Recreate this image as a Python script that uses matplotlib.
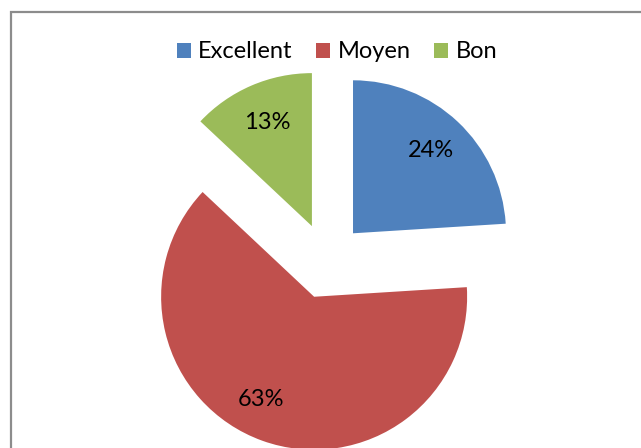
import matplotlib
matplotlib.use("Agg")
import matplotlib.pyplot as plt
from matplotlib.patches import Rectangle

categories = ["Excellent", "Moyen", "Bon"]
values = [24, 63, 13]
colors = ["#4F81BD", "#C0504D", "#9BBB59"]

plt.rcParams["font.family"] = ["Lato", "DejaVu Sans"]

fig = plt.figure(figsize=(6.41, 4.48), dpi=100)
ax = fig.add_axes([0, 0, 1, 1])
ax.set_xlim(0, 641)
ax.set_ylim(0, 448)
ax.set_aspect("equal")
ax.axis("off")

# chart frame (cut off on the right and bottom like the original screenshot)
ax.add_patch(Rectangle((10.5, -20), 700, 448 - 11.5 + 20, fill=False,
                       edgecolor="#8C8C8C", linewidth=1.6))

# explode is in data units here (pixels), every slice pulled out by the same amount
wedges, texts, autotexts = ax.pie(
    values, colors=colors, startangle=90, counterclock=False,
    explode=[38, 38, 38], center=(327, 187), radius=153,
    autopct="%1.0f%%", pctdistance=0.74,
    textprops={"fontsize": 17, "color": "black"},
    wedgeprops={"linewidth": 0},
)
ax.set_xlim(0, 641)
ax.set_ylim(0, 448)

# Excel puts the big slice's label a bit further left
x, y = autotexts[1].get_position()
autotexts[1].set_position((x - 15, y + 4))

ax.legend(wedges, categories, loc="center", bbox_to_anchor=(337 / 641, 1 - 52 / 448),
          bbox_transform=fig.transFigure, ncol=3, frameon=False, fontsize=17,
          handlelength=0.6, handleheight=0.6, handletextpad=0.3,
          columnspacing=1.0)

plt.savefig("out.png", dpi=100)
